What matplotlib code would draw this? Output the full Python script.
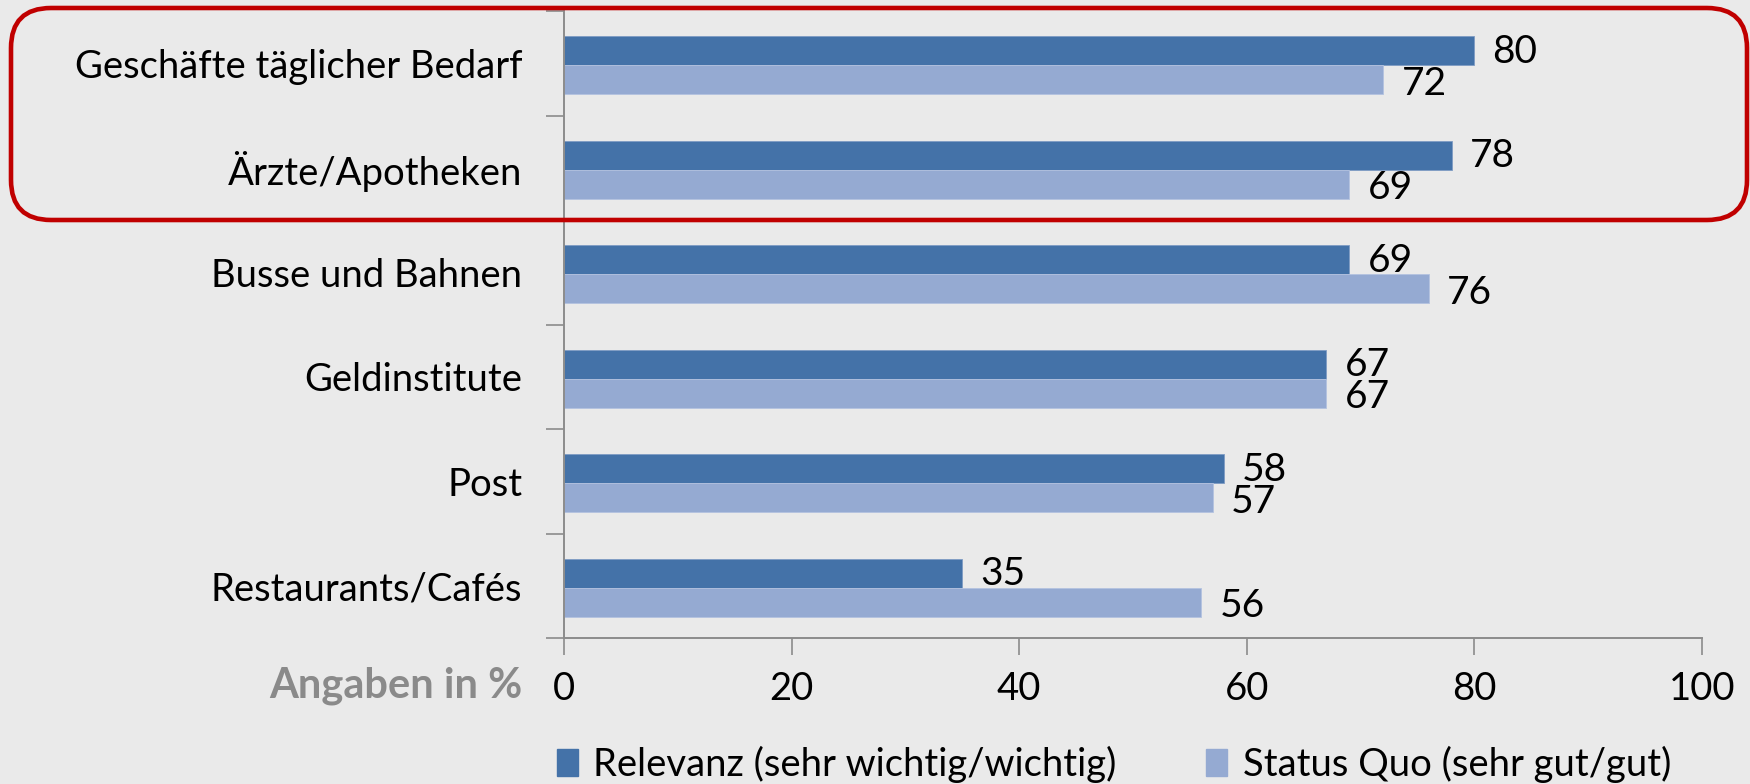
import numpy as np
import matplotlib
matplotlib.use("Agg")
import matplotlib.pyplot as plt
import matplotlib.patches as mpatches
from matplotlib.transforms import IdentityTransform

# données
categories = ["Geschäfte täglicher Bedarf", "Ärzte/Apotheken", "Busse und Bahnen",
              "Geldinstitute", "Post", "Restaurants/Cafés"]
relevanz = [80, 78, 69, 67, 58, 35]
status_quo = [72, 69, 76, 67, 57, 56]
series_names = ["Relevanz (sehr wichtig/wichtig)", "Status Quo (sehr gut/gut)"]
xticks = [0, 20, 40, 60, 80, 100]

DARK = "#4472A8"
LIGHT = "#95AAD2"
AXC = "#8C8C8C"
BG = "#EAEAEA"
FONT = ["Lato", "DejaVu Sans"]
FS = 27.5

plt.rcParams['font.family'] = FONT

fig = plt.figure(figsize=(17.5, 7.84), dpi=100, facecolor=BG)
ax = fig.add_axes([564/1750, 1-638/784, (1702-564)/1750, (638-11)/784])
ax.set_facecolor(BG)

y = np.arange(len(categories))
h = 0.277
ax.barh(y - h/2 + 0.02, relevanz, height=h, color=DARK, edgecolor="#7F9CC4", linewidth=0.6)
ax.barh(y + h/2 + 0.02, status_quo, height=h, color=LIGHT, edgecolor="#B4C3E0", linewidth=0.6)

for i in range(len(categories)):
    ax.text(relevanz[i] + 1.6, y[i] - h/2 + 0.03, str(relevanz[i]), va="center", ha="left", fontsize=28)
    ax.text(status_quo[i] + 1.6, y[i] + h/2 + 0.06, str(status_quo[i]), va="center", ha="left", fontsize=28)

ax.set_xlim(0, 100)
ax.set_ylim(len(categories) - 0.5, -0.5)
ax.set_xticks(xticks)
ax.set_xticklabels([str(t) for t in xticks], fontsize=FS)
ax.set_yticks(y)
ax.set_yticklabels(categories, fontsize=FS)
ax.set_yticks(np.arange(-0.5, len(categories)), minor=True)
ax.tick_params(axis="y", which="major", length=0, pad=30)
ax.tick_params(axis="y", which="minor", length=13, color=AXC, width=1.2)
ax.tick_params(axis="x", length=12, color=AXC, width=1.2, pad=12)

for s in ["top", "right"]:
    ax.spines[s].set_visible(False)
for s in ["left", "bottom"]:
    ax.spines[s].set_color(AXC)
    ax.spines[s].set_linewidth(1.4)

fig.text(522/1750, 1-686/784, "Angaben in %", ha="right", va="center",
         fontsize=30, fontweight="bold", color="#8A8A8A")

handles = [mpatches.Patch(color=DARK), mpatches.Patch(color=LIGHT)]
fig.legend(handles, series_names, loc="center", bbox_to_anchor=(1114/1750, 20/784),
           ncol=2, frameon=False, fontsize=FS, handlelength=0.55, handleheight=0.7,
           handletextpad=0.4, columnspacing=2.35, borderaxespad=0)

# cadre rouge arrondi (coordonnées pixels)
box = mpatches.FancyBboxPatch((11, 784-220), 1736, 212,
                              boxstyle="round,pad=0,rounding_size=40",
                              facecolor="none", edgecolor="#C00000", linewidth=3.3,
                              transform=IdentityTransform())
fig.add_artist(box)

fig.savefig("out.png", dpi=100, facecolor=BG)
